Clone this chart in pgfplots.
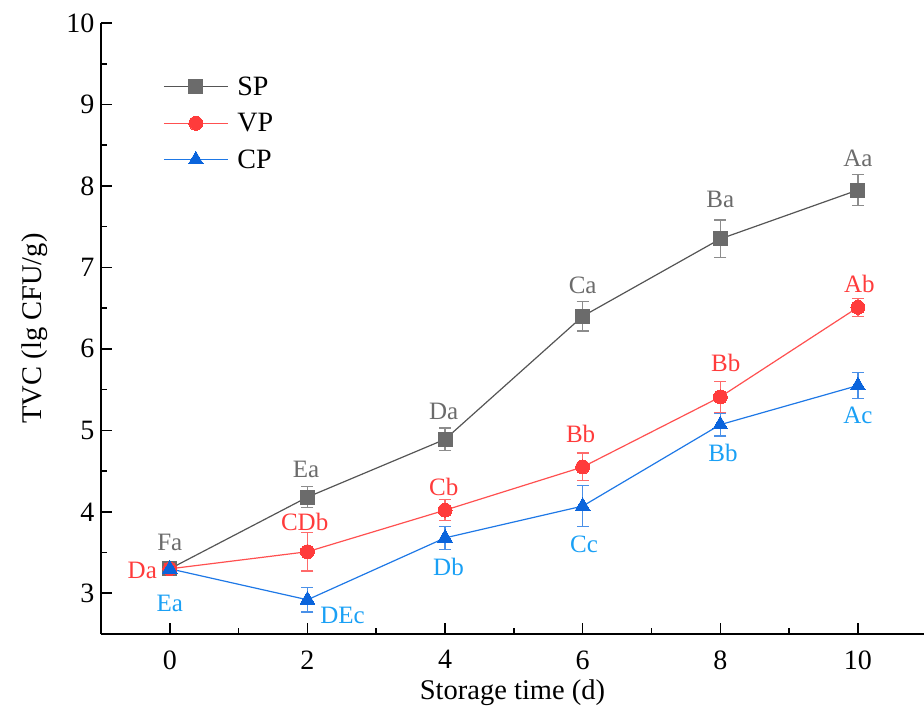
\documentclass[border=0pt]{standalone}
\usepackage{fontspec}
\setmainfont{Liberation Serif}
\usepackage{pgfplots}
\pgfplotsset{compat=1.18}
\definecolor{spc}{HTML}{6B6B6B}
\definecolor{spl}{HTML}{555555}
\definecolor{spe}{HTML}{8C8C8C}
\definecolor{vpc}{HTML}{FF3B3B}
\definecolor{vpl}{HTML}{FF5050}
\definecolor{vpe}{HTML}{FF6A6A}
\definecolor{cpc}{HTML}{0A64DC}
\definecolor{cpl}{HTML}{1E78E6}
\definecolor{cpe}{HTML}{4A90E8}
\definecolor{cpt}{HTML}{1AA0F5}
\begin{document}
\begin{tikzpicture}
\useasboundingbox (-101pt,-79pt) rectangle (823pt,634pt);
\begin{axis}[
  scale only axis, width=823pt, height=611pt,
  xmin=-1, xmax=10.96, ymin=2.5, ymax=10,
  axis x line*=bottom, axis y line*=left,
  axis line style={line width=1.6pt, -},
  xtick={0,2,...,10}, minor xtick={1,3,...,9},
  ytick={3,...,10}, minor ytick={3.5,4.5,...,9.5},
  tick align=inside,
  major tick length=11pt, minor tick length=6pt,
  every tick/.style={line width=1.6pt, black},
  tick label style={font=\fontsize{28}{32}\selectfont},
  /pgf/number format/assume math mode=true,
  xticklabel style={yshift=-13pt},
  yticklabel style={xshift=-3pt},
  xlabel={Storage time (d)}, ylabel={TVC (lg CFU/g)},
  label style={font=\fontsize{28.5}{33}\selectfont},
  xlabel style={at={(axis description cs:0.5,-0.108)}, anchor=base},
  ylabel style={at={(axis description cs:-0.0717,0.5)}, anchor=base, rotate=0},
  legend style={at={(axis description cs:0.0717,0.9155)}, anchor=north west,
    draw=none, fill=none, font=\fontsize{28}{32}\selectfont,
    nodes={inner sep=0pt}, row sep=16.5pt},
  legend cell align=left,
  legend image code/.code={\draw[mark repeat=2,mark phase=2,#1] plot coordinates {(0pt,0pt) (32pt,0pt) (64pt,0pt)}; \path (73pt,0pt);},
  error bars/y dir=both, error bars/y explicit,
]
\addplot[spl, line width=1.2pt, mark=square*, mark size=7pt,
  mark options={fill=spc, draw=spc, line width=0pt},
  error bars/error bar style={spe, line width=1.3pt},
  error bars/error mark options={rotate=90, mark size=6pt, spe, line width=1.3pt}]
  coordinates {(0,3.30) +- (0,0.07) (2,4.18) +- (0,0.13) (4,4.89) +- (0,0.14)
  (6,6.40) +- (0,0.18) (8,7.35) +- (0,0.23) (10,7.95) +- (0,0.19)};
\addlegendentry{SP}
\addplot[vpl, line width=1.2pt, mark=*, mark size=7pt,
  mark options={fill=vpc, draw=vpc, line width=0pt},
  error bars/error bar style={vpe, line width=1.3pt},
  error bars/error mark options={rotate=90, mark size=6pt, vpe, line width=1.3pt}]
  coordinates {(0,3.30) +- (0,0.05) (2,3.51) +- (0,0.235) (4,4.02) +- (0,0.13)
  (6,4.55) +- (0,0.17) (8,5.41) +- (0,0.19) (10,6.51) +- (0,0.11)};
\addlegendentry{VP}
\addplot[cpl, line width=1.2pt, mark=triangle*, mark size=8.5pt,
  mark options={fill=cpc, draw=cpc, line width=0pt},
  error bars/error bar style={cpe, line width=1.3pt},
  error bars/error mark options={rotate=90, mark size=6pt, cpe, line width=1.3pt}]
  coordinates {(0,3.30) +- (0,0.06) (2,2.92) +- (0,0.15) (4,3.68) +- (0,0.14)
  (6,4.07) +- (0,0.25) (8,5.07) +- (0,0.14) (10,5.55) +- (0,0.16)};
\addlegendentry{CP}
\begin{scope}[every node/.style={font=\fontsize{25}{29}\selectfont, inner sep=0pt}]
\node[text=spc] at (axis cs:0,3.62) {Fa};
\node[text=spc] at (axis cs:1.98,4.52) {Ea};
\node[text=spc] at (axis cs:3.98,5.23) {Da};
\node[text=spc] at (axis cs:6,6.78) {Ca};
\node[text=spc] at (axis cs:8,7.84) {Ba};
\node[text=spc] at (axis cs:10,8.34) {Aa};
\node[text=vpc] at (axis cs:-0.40,3.28) {Da};
\node[text=vpc] at (axis cs:1.96,3.87) {CDb};
\node[text=vpc] at (axis cs:3.98,4.30) {Cb};
\node[text=vpc] at (axis cs:5.97,4.95) {Bb};
\node[text=vpc] at (axis cs:8.08,5.83) {Bb};
\node[text=vpc] at (axis cs:10.02,6.80) {Ab};
\node[text=cpt] at (axis cs:0,2.88) {Ea};
\node[text=cpt] at (axis cs:2.51,2.73) {DEc};
\node[text=cpt] at (axis cs:4.05,3.32) {Db};
\node[text=cpt] at (axis cs:6.02,3.60) {Cc};
\node[text=cpt] at (axis cs:8.04,4.72) {Bb};
\node[text=cpt] at (axis cs:10,5.18) {Ac};
\end{scope}
\end{axis}
\end{tikzpicture}
\end{document}
